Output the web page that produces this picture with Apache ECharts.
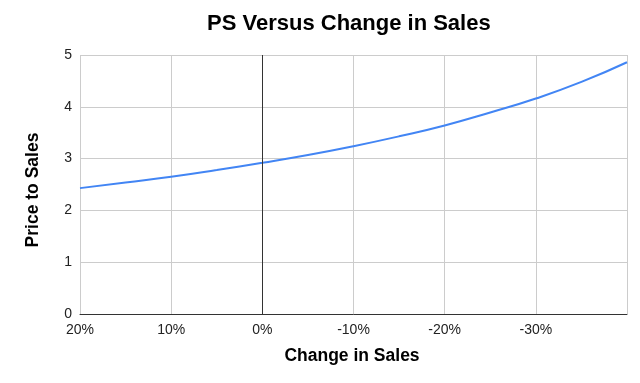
<!DOCTYPE html>
<html><head><meta charset="utf-8">
<script src="https://cdn.jsdelivr.net/npm/echarts@6/dist/echarts.min.js"></script>
<style>html,body{margin:0;padding:0;background:#fff}#c{width:640px;height:383px}</style>
</head><body><div id="c"></div>
<script>
const changeInSales = [20, 15, 10, 5, 0, -5, -10, -15, -20, -25, -30, -35, -40];
const priceToSales = [2.43, 2.54, 2.65, 2.78, 2.92, 3.07, 3.24, 3.43, 3.64, 3.89, 4.16, 4.48, 4.86];
const yTicks = [0, 1, 2, 3, 4, 5];
const xTickLabels = ['20%', '10%', '0%', '-10%', '-20%', '-30%'];

const chart = echarts.init(document.getElementById('c'));
const font = 'Liberation Sans, Arial, sans-serif';
chart.setOption({
  animation: false,
  textStyle: { fontFamily: font },
  title: {
    text: 'PS Versus Change in Sales',
    left: 202, top: 8,
    textStyle: { fontSize: 22, fontWeight: 'bold', color: '#000', fontFamily: font }
  },
  graphic: [
    { type: 'text', x: 352, y: 356, style: { text: 'Change in Sales', font: 'bold 17.5px ' + font, fill: '#000', align: 'center', verticalAlign: 'middle' } },
    { type: 'text', x: 33, y: 190, rotation: Math.PI / 2, style: { text: 'Price to Sales', font: 'bold 17.5px ' + font, fill: '#000', align: 'center', verticalAlign: 'middle' } }
  ],
  grid: { left: 80, right: 13, top: 55, bottom: 69 },
  xAxis: {
    type: 'value', inverse: true, min: -40, max: 20, interval: 10,
    axisLine: { show: true, onZero: false, lineStyle: { color: '#333', width: 1 } },
    axisTick: { show: false },
    splitLine: { show: true, lineStyle: { color: '#ccc' } },
    axisLabel: {
      color: '#222', fontSize: 14, margin: 9, fontFamily: font,
      formatter: v => { const i = [20,10,0,-10,-20,-30].indexOf(v); return i >= 0 ? xTickLabels[i] : ''; }
    }
  },
  yAxis: {
    type: 'value', min: yTicks[0], max: yTicks[yTicks.length - 1], interval: 1,
    axisLine: { show: false }, axisTick: { show: false },
    splitLine: { show: true, lineStyle: { color: '#ccc' } },
    axisLabel: { color: '#222', fontSize: 14, margin: 8, fontFamily: font }
  },
  series: [{
    type: 'line', smooth: true, showSymbol: false,
    data: changeInSales.map((x, i) => [x, priceToSales[i]]),
    lineStyle: { color: '#4285f4', width: 2 },
    markLine: {
      silent: true, symbol: 'none', label: { show: false },
      lineStyle: { color: '#333', width: 1, type: 'solid' },
      data: [{ xAxis: 0 }]
    }
  }]
});
</script></body></html>
